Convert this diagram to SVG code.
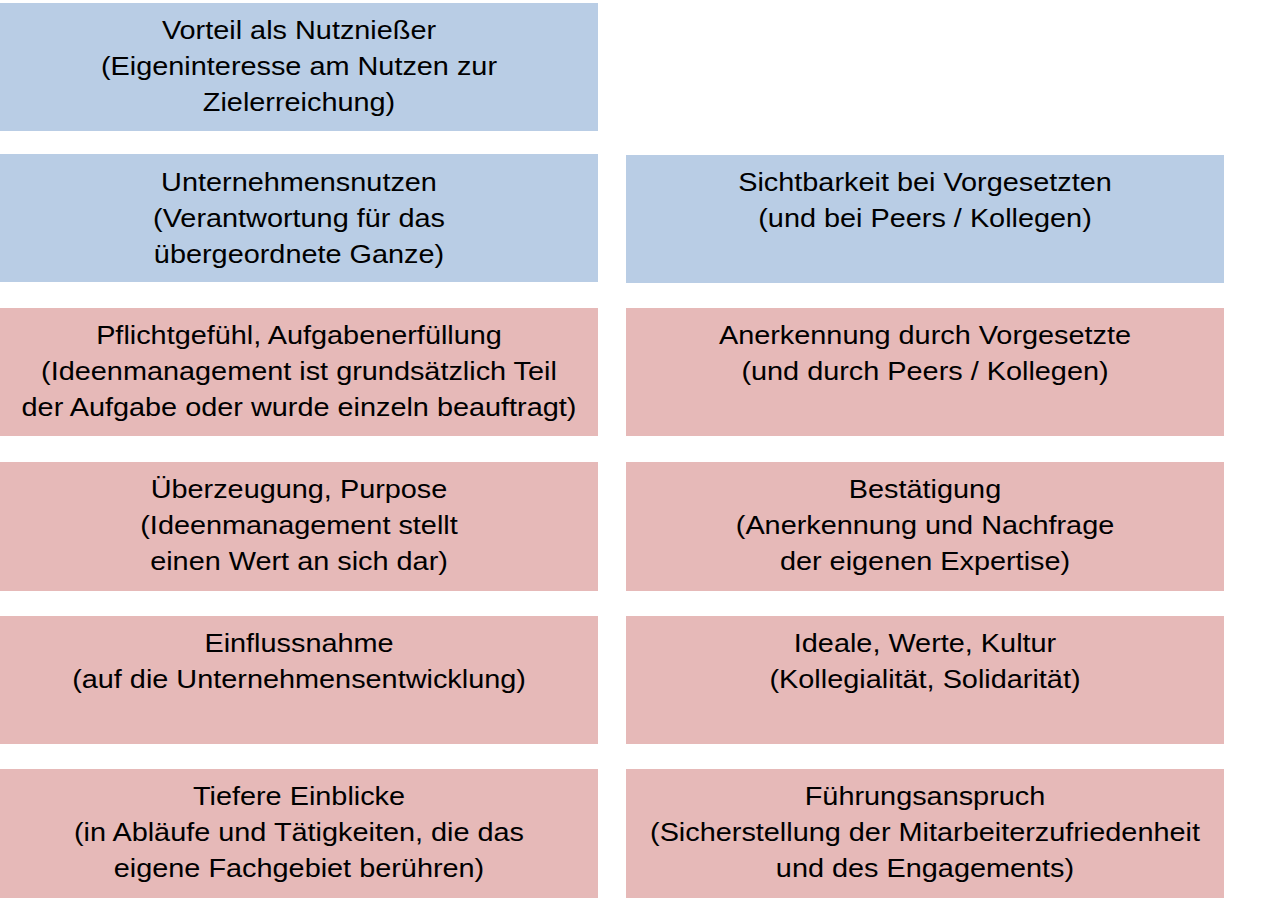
<svg xmlns="http://www.w3.org/2000/svg" width="1266" height="904" viewBox="0 0 1266 904">
<style>
.blue{fill:#B9CDE5}
.pink{fill:#E6B9B8}
text{font-family:"Liberation Sans",Arial,sans-serif;font-size:26px;fill:#000;text-anchor:middle}
</style>
<rect width="1266" height="904" fill="#fff"/>
<g id="n-vorteil">
<rect class="blue" x="0" y="3" width="598" height="128"/>
<text transform="translate(299 0) scale(1.11 1)"><tspan x="0" y="39.5">Vorteil als Nutznießer</tspan><tspan x="0" y="75.5">(Eigeninteresse am Nutzen zur</tspan><tspan x="0" y="111.5">Zielerreichung)</tspan></text>
</g>
<g id="n-unternehmensnutzen">
<rect class="blue" x="0" y="154" width="598" height="128"/>
<text transform="translate(299 0) scale(1.11 1)"><tspan x="0" y="191">Unternehmensnutzen</tspan><tspan x="0" y="227">(Verantwortung für das</tspan><tspan x="0" y="263">übergeordnete Ganze)</tspan></text>
</g>
<g id="n-sichtbarkeit">
<rect class="blue" x="626" y="155" width="598" height="128"/>
<text transform="translate(925 0) scale(1.11 1)"><tspan x="0" y="191">Sichtbarkeit bei Vorgesetzten</tspan><tspan x="0" y="227">(und bei Peers / Kollegen)</tspan></text>
</g>
<g id="n-pflicht">
<rect class="pink" x="0" y="308" width="598" height="128"/>
<text transform="translate(299 0) scale(1.11 1)"><tspan x="0" y="344.5">Pflichtgefühl, Aufgabenerfüllung</tspan><tspan x="0" y="380.5">(Ideenmanagement ist grundsätzlich Teil</tspan><tspan x="0" y="416.5">der Aufgabe oder wurde einzeln beauftragt)</tspan></text>
</g>
<g id="n-anerkennung">
<rect class="pink" x="626" y="308" width="598" height="128"/>
<text transform="translate(925 0) scale(1.11 1)"><tspan x="0" y="344.5">Anerkennung durch Vorgesetzte</tspan><tspan x="0" y="380.5">(und durch Peers / Kollegen)</tspan></text>
</g>
<g id="n-ueberzeugung">
<rect class="pink" x="0" y="462" width="598" height="129"/>
<text transform="translate(299 0) scale(1.11 1)"><tspan x="0" y="498.5">Überzeugung, Purpose</tspan><tspan x="0" y="534.5">(Ideenmanagement stellt</tspan><tspan x="0" y="570.5">einen Wert an sich dar)</tspan></text>
</g>
<g id="n-bestaetigung">
<rect class="pink" x="626" y="462" width="598" height="129"/>
<text transform="translate(925 0) scale(1.11 1)"><tspan x="0" y="498.5">Bestätigung</tspan><tspan x="0" y="534.5">(Anerkennung und Nachfrage</tspan><tspan x="0" y="570.5">der eigenen Expertise)</tspan></text>
</g>
<g id="n-einfluss">
<rect class="pink" x="0" y="616" width="598" height="128"/>
<text transform="translate(299 0) scale(1.11 1)"><tspan x="0" y="652.5">Einflussnahme</tspan><tspan x="0" y="688.5">(auf die Unternehmensentwicklung)</tspan></text>
</g>
<g id="n-ideale">
<rect class="pink" x="626" y="616" width="598" height="128"/>
<text transform="translate(925 0) scale(1.11 1)"><tspan x="0" y="652.5">Ideale, Werte, Kultur</tspan><tspan x="0" y="688.5">(Kollegialität, Solidarität)</tspan></text>
</g>
<g id="n-einblicke">
<rect class="pink" x="0" y="769" width="598" height="129"/>
<text transform="translate(299 0) scale(1.11 1)"><tspan x="0" y="805">Tiefere Einblicke</tspan><tspan x="0" y="841">(in Abläufe und Tätigkeiten, die das</tspan><tspan x="0" y="877">eigene Fachgebiet berühren)</tspan></text>
</g>
<g id="n-fuehrung">
<rect class="pink" x="626" y="769" width="598" height="129"/>
<text transform="translate(925 0) scale(1.11 1)"><tspan x="0" y="805">Führungsanspruch</tspan><tspan x="0" y="841">(Sicherstellung der Mitarbeiterzufriedenheit</tspan><tspan x="0" y="877">und des Engagements)</tspan></text>
</g>
<g id="connectors"></g>
</svg>
